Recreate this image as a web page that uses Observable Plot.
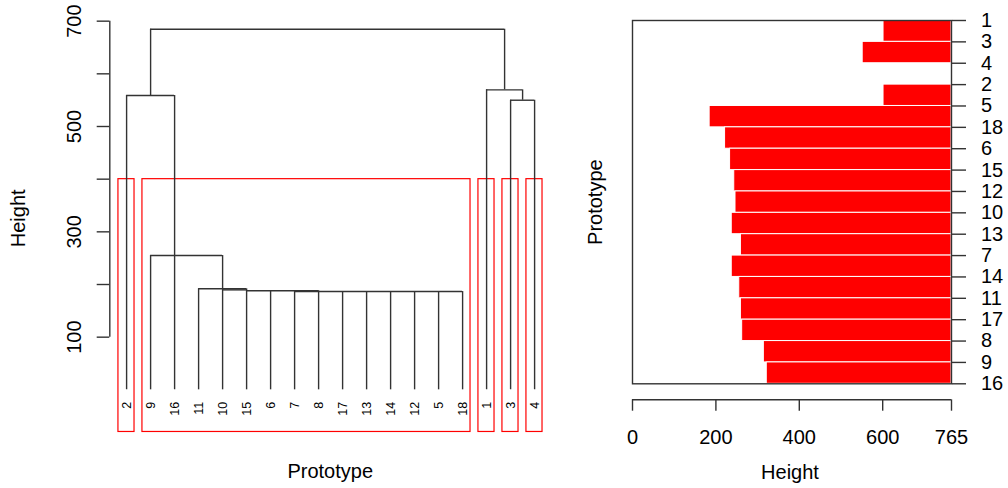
<!DOCTYPE html>
<html>
<head>
<meta charset="utf-8">
<script src="https://cdn.jsdelivr.net/npm/d3@7"></script>
<script src="https://cdn.jsdelivr.net/npm/@observablehq/plot@0.6"></script>
<style>
  html, body { margin: 0; padding: 0; background: #fff; }
  #chart { position: relative; width: 1008px; height: 488px; overflow: hidden; background: #fff; }
  #chart > div { position: absolute; top: 0; }
  #left { left: 0; }
  #right { left: 560px; }
  svg { overflow: visible; }
</style>
</head>
<body>
<div id="chart"><div id="left"></div><div id="right"></div></div>
<script>
// ---- Dendrogram (left panel) ----
// Leaves in plotting order (x position = index)
const leafOrder = ["2", "9", "16", "11", "10", "15", "6", "7", "8", "17", "13", "14", "12", "5", "18", "1", "3", "4"];
// Height reached by each leaf's stem
const leafTop = [558.8, 255.0, 558.8, 191.8, 255.0, 191.8, 188.2, 188.2, 188.2, 186.6, 186.6, 186.6, 186.6, 186.6, 186.6, 569.6, 549.9, 549.9];
// Horizontal joins: from x1 to x2 (leaf-index units) at merge height h
const joinX1 = [1, 0, 15, 16, 1, 3, 4, 5, 7];
const joinX2 = [15.75, 2, 16.5, 17, 4, 5, 5, 8, 14];
const joinH = [684.7, 558.8, 569.6, 549.9, 255.0, 191.8, 189.8, 188.2, 186.6];
// Stems rising from internal nodes: position, from height, to height
const stemX = [1, 15.75, 16.5];
const stemFrom = [558.8, 569.6, 549.9];
const stemTo = [684.7, 684.7, 569.6];
// Clusters cut at height 400: first and last leaf index
const clusterFirst = [0, 1, 15, 16, 17];
const clusterLast = [0, 14, 15, 16, 17];
const cutHeight = 400;
const heightTicks = [100, 200, 300, 400, 500, 600, 700];
const heightLabels = [100, 300, 500, 700];

// ---- Banner (right panel) ----
const bannerLabels = ["1", "3", "4", "2", "5", "18", "6", "15", "12", "10", "13", "7", "14", "11", "17", "8", "9", "16"];
// Merge height between consecutive labels
const bannerHeights = [602, 552, 765, 602, 185, 222, 234, 244, 247, 238, 260, 238, 256, 260, 263, 315, 322];
const bannerMax = 765;
const bannerTicks = [0, 200, 400, 600, 765];

const FONT = "'Liberation Sans', Arial, Helvetica, sans-serif";
const INK = "#333";

const joins = joinH.map((h, i) => ({x1: joinX1[i], x2: joinX2[i], h}));
const stems = stemX.map((x, i) => ({x, y1: stemFrom[i], y2: stemTo[i]}));
const leaves = leafOrder.map((label, i) => ({i, label, top: leafTop[i]}));
const clusters = clusterFirst.map((f, i) => ({first: f, last: clusterLast[i]}));

const xDomain = [-0.7, 18];
const yDomain = [-80, 720];

const left = Plot.plot({
  width: 560,
  height: 488,
  marginLeft: 109.3,
  marginRight: 1.9,
  marginTop: 10.13,
  marginBottom: 56.53,
  x: {domain: xDomain, axis: null},
  y: {domain: yDomain, axis: null},
  style: {fontFamily: FONT, fontSize: "20px", color: "#000", background: "transparent"},
  marks: [
    // cluster boxes
    Plot.rect(clusters, {x1: d => d.first - 0.34, x2: d => d.last + 0.33, y1: yDomain[0], y2: cutHeight, fill: "none", stroke: "#ff0000", strokeWidth: 1.2}),
    // tree
    Plot.ruleX(leaves, {x: "i", y1: 0, y2: "top", stroke: INK, strokeWidth: 1.4}),
    Plot.ruleX(stems, {x: "x", y1: "y1", y2: "y2", stroke: INK, strokeWidth: 1.4}),
    Plot.ruleY(joins, {y: "h", x1: "x1", x2: "x2", stroke: INK, strokeWidth: 1.4}),
    // leaf labels
    Plot.text(leaves, {x: "i", y: 0, text: "label", dy: 12, rotate: -90, textAnchor: "end", lineAnchor: "middle", fontSize: 12.5, fill: "#000"}),
    // height axis
    Plot.ruleX([xDomain[0]], {y1: heightTicks[0], y2: heightTicks[heightTicks.length - 1], stroke: INK, strokeWidth: 1.4}),
    Plot.axisY(heightTicks, {anchor: "left", tickSize: 12.6, fill: "none", stroke: INK, strokeWidth: 1.4, label: null}),
    Plot.text(heightLabels, {y: d => d, text: d => String(d), frameAnchor: "left", rotate: -90, textAnchor: "middle", lineAnchor: "bottom", dx: -29.3, fill: "#000"}),
    // axis titles
    Plot.text(["Height"], {frameAnchor: "left", rotate: -90, textAnchor: "middle", lineAnchor: "bottom", dx: -85.3, dy: -3, fill: "#000"}),
    Plot.text(["Prototype"], {frameAnchor: "bottom", textAnchor: "middle", lineAnchor: "bottom", dx: -4, dy: 46.5, fill: "#000"})
  ]
});
document.getElementById("left").appendChild(left);

const banner = bannerHeights.map((h, i) => ({i, h}));

const right = Plot.plot({
  width: 448,
  height: 488,
  marginLeft: 72,
  marginRight: 57,
  marginTop: 20,
  marginBottom: 104.7,
  x: {domain: [0, bannerMax], axis: null},
  y: {domain: [0, bannerLabels.length - 1], reverse: true, axis: null},
  style: {fontFamily: FONT, fontSize: "20px", color: "#000", background: "transparent"},
  marks: [
    Plot.rect(banner, {x1: "h", x2: bannerMax, y1: "i", y2: d => d.i + 1, fill: "#ff0000", stroke: "#fff", strokeWidth: 1}),
    Plot.frame({stroke: INK, strokeWidth: 1.4}),
    Plot.axisY(d3.range(bannerLabels.length), {anchor: "right", tickSize: 14, tickPadding: 15.5, tickFormat: i => bannerLabels[i], stroke: INK, strokeWidth: 1.4, fill: "#000", label: null}),
    Plot.ruleY([bannerLabels.length - 1], {x1: 0, x2: bannerMax, dy: 16, stroke: INK, strokeWidth: 1.4}),
    Plot.axisX(bannerTicks, {anchor: "bottom", tickSize: 11.4, tickPadding: 18.3, dy: 16, stroke: INK, strokeWidth: 1.4, fill: "#000", label: null}),
    Plot.text(["Height"], {frameAnchor: "bottom", textAnchor: "middle", lineAnchor: "bottom", dx: -2, dy: 94.7, fill: "#000"}),
    Plot.text(["Prototype"], {frameAnchor: "left", rotate: -90, textAnchor: "middle", lineAnchor: "bottom", dx: -30.5, fill: "#000"})
  ]
});
document.getElementById("right").appendChild(right);
</script>
</body>
</html>
